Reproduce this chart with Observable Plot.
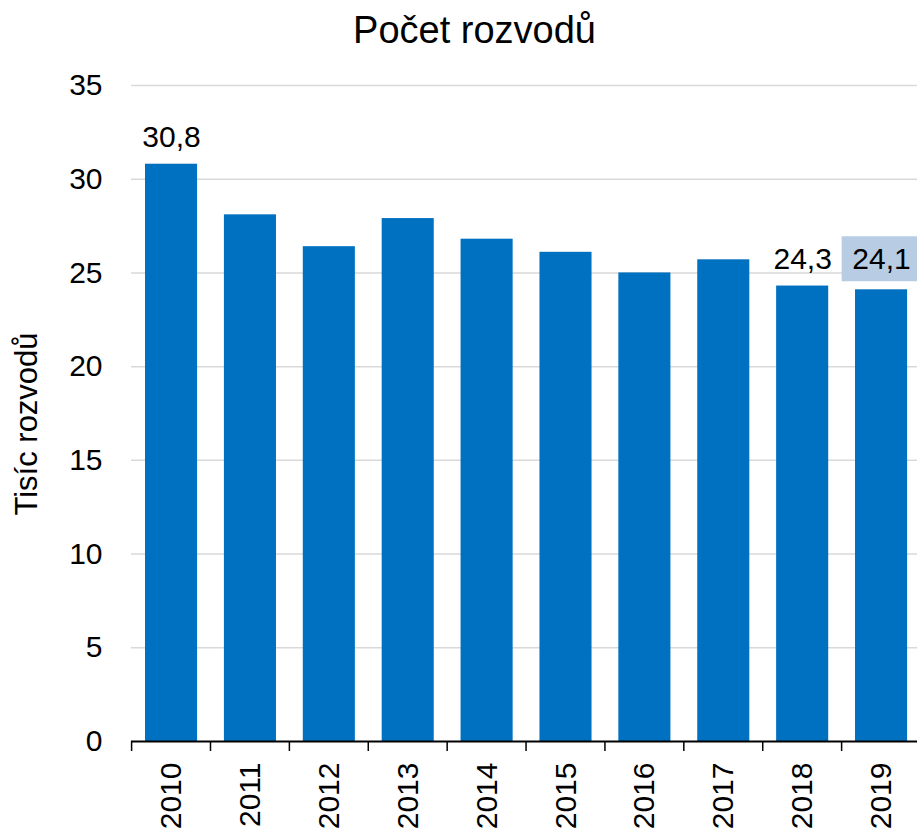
<!DOCTYPE html>
<html>
<head>
<meta charset="utf-8">
<script src="https://cdn.jsdelivr.net/npm/d3@7"></script>
<script src="https://cdn.jsdelivr.net/npm/@observablehq/plot@0.6"></script>
<style>
  body { margin: 0; background: #fff; font-family: "Liberation Sans", Arial, sans-serif; }
  #wrap { position: relative; width: 917px; height: 831px; }
  #title { position: absolute; top: 11px; left: 16px; width: 917px; text-align: center;
           font-size: 38px; line-height: 38px; color: #000; }
  svg { font-family: "Liberation Sans", Arial, sans-serif; }
</style>
</head>
<body>
<div id="wrap">
  <div id="title">Počet rozvodů</div>
  <div id="chart"></div>
</div>
<script>
const years = ["2010","2011","2012","2013","2014","2015","2016","2017","2018","2019"];
const values = [30.8, 28.1, 26.4, 27.9, 26.8, 26.1, 25.0, 25.7, 24.3, 24.1];
const labeledYears = ["2010","2018"];
const highlightYear = "2019";
const yTicks = [0, 5, 10, 15, 20, 25, 30, 35];
const yLabel = "Tisíc rozvodů";

const data = years.map((y, i) => ({year: y, value: values[i]}));
const fmt = v => v.toFixed(1).replace(".", ",");

const barColor = "#0070C0";
const boxColor = "#B8CCE4";
const NS = "http://www.w3.org/2000/svg";

// band-edge tick marks below the x axis, positioned through the x scale
const edgeTicks = (index, scales, values, dimensions) => {
  const g = document.createElementNS(NS, "g");
  const x = scales.x;
  const step = x.step ? x.step() : x.bandwidth() / (1 - 0.34);
  const pad = (step - x.bandwidth()) / 2;
  const y0 = dimensions.height - dimensions.marginBottom;
  years.forEach(yr => {
    const xe = x(yr) - pad;
    const l = document.createElementNS(NS, "line");
    l.setAttribute("x1", xe); l.setAttribute("x2", xe);
    l.setAttribute("y1", y0); l.setAttribute("y2", y0 + 10);
    l.setAttribute("stroke", "#000"); l.setAttribute("stroke-width", 1.5);
    g.appendChild(l);
  });
  return g;
};

// rotated y-axis title, centred on the frame
const yTitle = (index, scales, values, dimensions) => {
  const t = document.createElementNS(NS, "text");
  const cy = (dimensions.marginTop + dimensions.height - dimensions.marginBottom) / 2 + 11;
  t.setAttribute("transform", `translate(37,${cy}) rotate(-90)`);
  t.setAttribute("text-anchor", "middle");
  t.setAttribute("font-size", 31);
  t.setAttribute("fill", "#000");
  t.textContent = yLabel;
  return t;
};

const chart = Plot.plot({
  width: 917,
  height: 831,
  marginTop: 85,
  marginBottom: 90,
  marginLeft: 131,
  marginRight: 0,
  style: {fontFamily: "Liberation Sans, Arial, sans-serif", background: "#fff"},
  x: {type: "band", domain: years, range: [131.6, 920.5], paddingInner: 0.34, paddingOuter: 0.17, round: false},
  y: {domain: [0, 35]},
  marks: [
    Plot.ruleY(yTicks.filter(d => d > 0), {stroke: "#d9d9d9", strokeWidth: 1.5}),
    Plot.barY(data, {x: "year", y: "value", fill: barColor}),
    Plot.axisY(yTicks, {tickSize: 0, tickPadding: 29, fontSize: 30, label: null, fill: "#000"}),
    Plot.axisX(years, {tickSize: 0, tickPadding: 21, tickRotate: -90, fontSize: 30, label: null, fill: "#000"}),
    Plot.ruleY([0], {stroke: "#000", strokeWidth: 2}),
    edgeTicks,
    Plot.text(data.filter(d => labeledYears.includes(d.year)),
      {x: "year", y: "value", text: d => fmt(d.value), dy: -27, fontSize: 30, fill: "#000"}),
    Plot.tickY(data.filter(d => d.year === highlightYear),
      {x: "year", y: "value", stroke: boxColor, strokeWidth: 45, dy: -31, insetLeft: -13.4, insetRight: -13.4}),
    Plot.text(data.filter(d => d.year === highlightYear),
      {x: "year", y: "value", text: d => fmt(d.value), dy: -30, fontSize: 30, fill: "#000"}),
    yTitle
  ]
});
document.getElementById("chart").appendChild(chart);
</script>
</body>
</html>
